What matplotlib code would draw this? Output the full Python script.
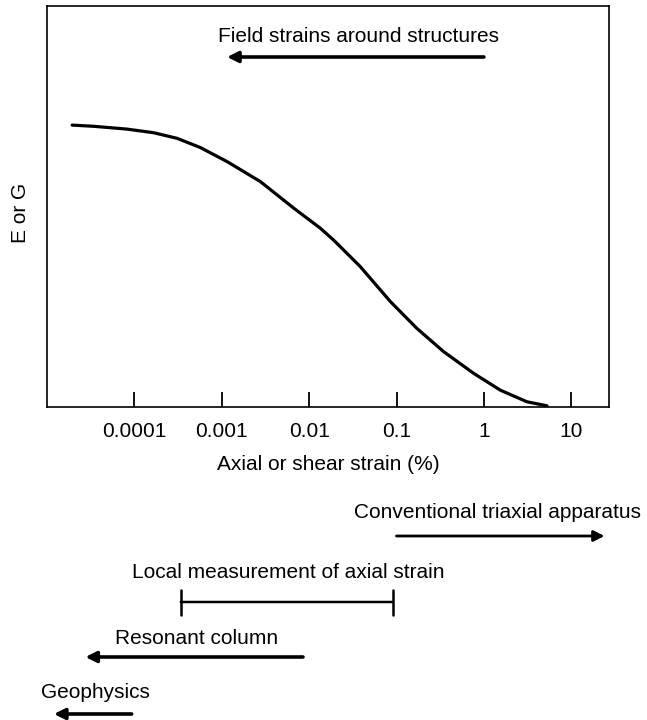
import matplotlib
matplotlib.use('Agg')
import matplotlib.pyplot as plt
from matplotlib.transforms import blended_transform_factory

plt.rcParams['font.family'] = ['Liberation Sans', 'DejaVu Sans']

# stiffness degradation curve (strain in %, modulus in axis fraction)
strain = [1.94e-5, 3.42e-5, 8.24e-5, 1.66e-4, 3.08e-4, 5.69e-4, 1.15e-3,
          2.77e-3, 6.65e-3, 0.0134, 0.0191, 0.0385, 0.0849, 0.171, 0.346,
          0.762, 1.54, 3.11, 5.27]
modulus = [0.703, 0.700, 0.693, 0.684, 0.670, 0.647, 0.612,
           0.562, 0.496, 0.446, 0.416, 0.350, 0.263, 0.196, 0.138,
           0.084, 0.042, 0.013, 0.003]

tick_vals = [1e-4, 1e-3, 1e-2, 1e-1, 1, 10]
tick_labels = ['0.0001', '0.001', '0.01', '0.1', '1', '10']

# strain ranges of the measuring methods: (label, start, end)
field_range = ('Field strains around structures', 1.0, 1.15e-3)
triaxial_range = ('Conventional triaxial apparatus', 0.1, 24.0)
local_range = ('Local measurement of axial strain', 3.4e-4, 0.09)
resonant_range = ('Resonant column', 8.5e-3, 2.75e-5)
geophys_range = ('Geophysics', 9.3e-5, 1.2e-5)

W, H = 647, 720
fig = plt.figure(figsize=(W / 100, H / 100), dpi=100)
ax = fig.add_axes([47 / W, 1 - 407 / H, (609 - 47) / W, (407 - 6) / H])

ax.plot(strain, modulus, color='black', lw=2.3, solid_joinstyle='round',
        solid_capstyle='round')
ax.set_xscale('log')
ax.set_xlim(1e-5, 27)
ax.set_ylim(0, 1)
ax.set_xticks(tick_vals)
ax.set_xticklabels(tick_labels)
ax.minorticks_off()
ax.set_yticks([])
ax.tick_params(axis='x', direction='in', length=11, width=1.3, pad=11,
               labelsize=15)
for sp in ax.spines.values():
    sp.set_linewidth(1.2)

ax.set_xlabel('Axial or shear strain (%)', fontsize=15, labelpad=10)
fig.text(20 / W, 1 - 213 / H, 'E or G', rotation=90, fontsize=15,
         ha='center', va='center')

# x in data, y in figure fraction
tr = blended_transform_factory(ax.transData, fig.transFigure)


def fy(py):
    return 1 - py / H


def arrow(x0, x1, py, lw=2.2):
    ax.annotate('', xy=(x1, fy(py)), xytext=(x0, fy(py)), xycoords=tr,
                textcoords=tr, annotation_clip=False,
                arrowprops=dict(arrowstyle='-|>', color='black', lw=lw,
                                mutation_scale=16, shrinkA=0, shrinkB=0))


def label(text, px, py):
    fig.text(px / W, fy(py), text, fontsize=15, ha='center', va='center')


label(field_range[0], 359, 37)
arrow(field_range[1], field_range[2], 57, lw=2.6)

label(triaxial_range[0], 498, 513)
arrow(triaxial_range[1], triaxial_range[2], 536, lw=2.0)

label(local_range[0], 288, 573)
ax.annotate('', xy=(local_range[2], fy(602)), xytext=(local_range[1], fy(602)),
            xycoords=tr, textcoords=tr, annotation_clip=False,
            arrowprops=dict(arrowstyle='|-|', color='black', lw=1.8,
                            mutation_scale=9, shrinkA=0, shrinkB=0))

label(resonant_range[0], 197, 638)
arrow(resonant_range[1], resonant_range[2], 657, lw=2.6)

label(geophys_range[0], 95, 692)
arrow(geophys_range[1], geophys_range[2], 714, lw=2.6)

fig.savefig('out.png', dpi=100)
